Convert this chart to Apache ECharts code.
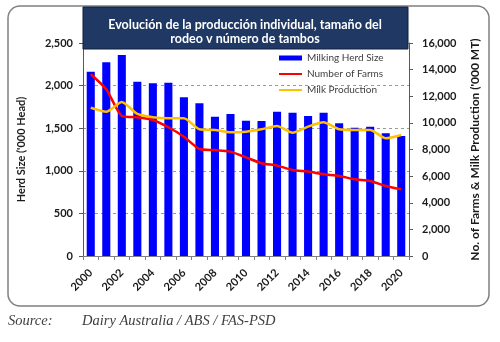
<!DOCTYPE html>
<html>
<head>
<meta charset="utf-8">
<script src="https://cdn.jsdelivr.net/npm/echarts@6/dist/echarts.min.js"></script>
<style>
  html, body { margin: 0; padding: 0; background: #ffffff; }
  #chart { width: 500px; height: 342px; }
</style>
</head>
<body>
<div id="chart"></div>
<script>
// Australian dairy: herd size, farm numbers and milk output, 2000-2020
const years = ['2000','2001','2002','2003','2004','2005','2006','2007','2008','2009','2010',
               '2011','2012','2013','2014','2015','2016','2017','2018','2019','2020'];
// Milking herd size ('000 head) - left axis
const herdSize = [2163, 2273, 2359, 2046, 2027, 2034, 1862, 1792, 1635, 1667, 1588,
                  1585, 1694, 1682, 1643, 1682, 1557, 1506, 1518, 1440, 1408];
// Number of farms - right axis
const numberOfFarms = [13650, 12520, 10520, 10420, 10220, 9670, 8960, 8040, 7960, 7840, 7410,
                       6970, 6790, 6460, 6340, 6140, 6010, 5760, 5630, 5260, 5010];
// Milk production ('000 MT) - right axis
const milkProduction = [11140, 10840, 11570, 10670, 10420, 10340, 10340, 9520, 9470, 9290, 9340,
                        9520, 9770, 9260, 9720, 10040, 9520, 9470, 9470, 8840, 9090];
const leftTicks = { min: 0, max: 2500, interval: 500 };
const rightTicks = { min: 0, max: 16000, interval: 2000 };

const FONT = 'Lato, "Open Sans", sans-serif';
const fmt = v => v.toLocaleString('en-US');

const chart = echarts.init(document.getElementById('chart'), null, { renderer: 'canvas' });

chart.setOption({
  animation: false,
  backgroundColor: '#ffffff',
  textStyle: { fontFamily: FONT },
  grid: { left: 83, right: 91, top: 43, bottom: 86, containLabel: false },
  legend: [
    {
      data: ['Milking Herd Size'],
      left: 279, top: 53,
      icon: 'rect', itemWidth: 23, itemHeight: 5,
      textStyle: { fontFamily: FONT, fontSize: 10, color: '#3f3f3f' },
      padding: 0
    },
    {
      data: ['Number of Farms', 'Milk Production'],
      orient: 'vertical',
      left: 279, top: 69,
      icon: 'rect', itemWidth: 23, itemHeight: 2, itemGap: 6,
      textStyle: { fontFamily: FONT, fontSize: 10, color: '#3f3f3f' },
      padding: 0
    }
  ],
  xAxis: {
    type: 'category',
    data: years,
    boundaryGap: true,
    axisLine: { lineStyle: { color: '#7f7f7f', width: 1 } },
    axisTick: { show: true, interval: 0, length: 4, lineStyle: { color: '#7f7f7f' } },
    axisLabel: {
      interval: 1, rotate: 45, margin: 15,
      fontFamily: FONT, fontSize: 11, fontWeight: 'bold', color: '#1a1a1a'
    }
  },
  yAxis: [
    {
      type: 'value',
      min: leftTicks.min, max: leftTicks.max, interval: leftTicks.interval,
      name: "Herd Size ('000 Head)",
      nameLocation: 'middle', nameRotate: 90, nameGap: 56,
      nameTextStyle: { fontFamily: FONT, fontSize: 11, fontWeight: 'bold', color: '#1a1a1a' },
      axisLine: { show: true, lineStyle: { color: '#595959', width: 1 } },
      axisTick: { show: true, length: 4, inside: false, lineStyle: { color: '#595959' } },
      axisLabel: {
        margin: 10, formatter: fmt,
        fontFamily: FONT, fontSize: 11, fontWeight: 'bold', color: '#1a1a1a'
      },
      splitLine: { show: true, lineStyle: { type: [3, 3], color: '#9a9a9a', width: 1 } }
    },
    {
      type: 'value',
      position: 'right',
      min: rightTicks.min, max: rightTicks.max, interval: rightTicks.interval,
      name: "No. of Farms & Milk Production ('000 MT)",
      nameLocation: 'middle', nameRotate: 90, nameGap: 60,
      nameTextStyle: { fontFamily: FONT, fontSize: 12, fontWeight: 'bold', color: '#1a1a1a' },
      axisLine: { show: true, lineStyle: { color: '#595959', width: 1 } },
      axisTick: { show: true, length: 4, lineStyle: { color: '#595959' } },
      axisLabel: {
        margin: 13, formatter: fmt,
        fontFamily: FONT, fontSize: 11, fontWeight: 'bold', color: '#1a1a1a'
      },
      splitLine: { show: false }
    }
  ],
  series: [
    {
      name: 'Milking Herd Size',
      type: 'bar',
      yAxisIndex: 0,
      data: herdSize,
      barWidth: '52%',
      itemStyle: { color: '#0000ff' },
      z: 2
    },
    {
      name: 'Number of Farms',
      type: 'line',
      yAxisIndex: 1,
      data: numberOfFarms,
      showSymbol: false, symbol: 'none',
      smooth: 0.2,
      lineStyle: { color: '#ff0000', width: 2.5 },
      itemStyle: { color: '#ff0000' },
      z: 3
    },
    {
      name: 'Milk Production',
      type: 'line',
      yAxisIndex: 1,
      data: milkProduction,
      showSymbol: false, symbol: 'none',
      smooth: 0.2,
      lineStyle: { color: '#ffc000', width: 2.5 },
      itemStyle: { color: '#ffc000' },
      z: 4
    }
  ],
  graphic: [
    {
      type: 'rect',
      shape: { x: 8, y: 6, width: 481, height: 300, r: 12 },
      style: { fill: 'none', stroke: '#808080', lineWidth: 1.5 },
      silent: true, z: -1
    },
    {
      type: 'rect',
      shape: { x: 83, y: 7, width: 325, height: 42 },
      style: { fill: '#1f3864', stroke: '#0f1f3a', lineWidth: 1 },
      silent: true, z: 10
    },
    {
      type: 'text',
      x: 245, y: 32,
      style: {
        text: 'Evolución de la producción individual, tamaño del\nrodeo v número de tambos',
        fill: '#ffffff', fontFamily: FONT, fontSize: 12.5, fontWeight: 'bold',
        align: 'center', verticalAlign: 'middle', lineHeight: 14.5
      },
      silent: true, z: 11
    },
    {
      type: 'text',
      x: 8, y: 321,
      style: {
        text: 'Source:', fill: '#404040',
        fontFamily: '"Liberation Serif", serif', fontSize: 14.5, fontStyle: 'italic',
        verticalAlign: 'middle'
      }
    },
    {
      type: 'text',
      x: 82, y: 321,
      style: {
        text: 'Dairy Australia / ABS / FAS-PSD', fill: '#404040',
        fontFamily: '"Liberation Serif", serif', fontSize: 14.5, fontStyle: 'italic',
        verticalAlign: 'middle'
      }
    }
  ]
});
</script>
</body>
</html>
